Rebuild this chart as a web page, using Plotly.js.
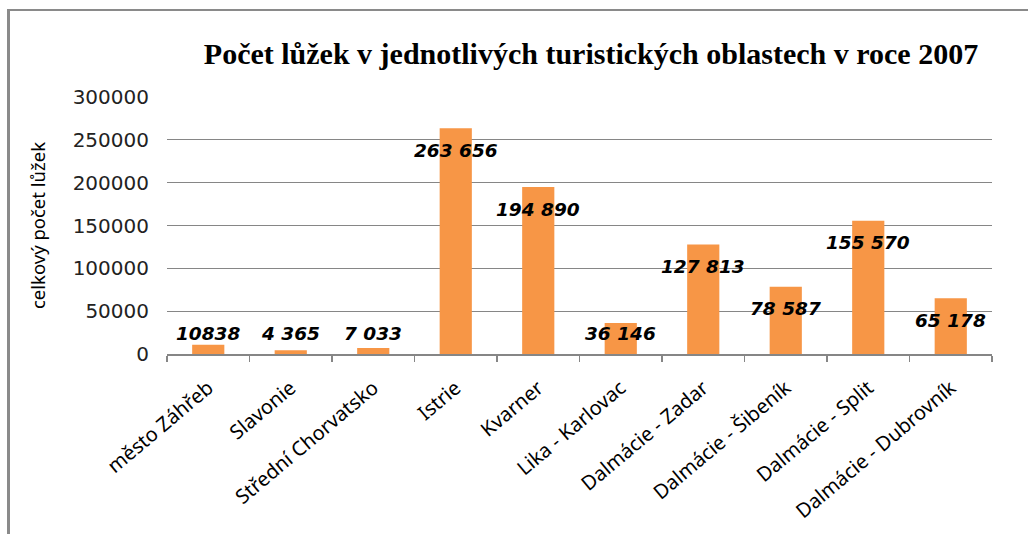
<!DOCTYPE html>
<html>
<head>
<meta charset="utf-8">
<script src="https://cdn.plot.ly/plotly-3.0.1.min.js"></script>
<style>
  html, body { margin: 0; padding: 0; background: #fff; }
  #wrap { position: relative; width: 1028px; height: 534px; }
  #chart { position: absolute; left: 0; top: 0; width: 1028px; height: 534px; }
  #frame { position: absolute; left: 7px; top: 9px; width: 1030px; height: 530px;
           border-left: 3px solid #8a8a8a; border-top: 2px solid #8a8a8a;
           pointer-events: none; z-index: 5; box-sizing: border-box; }
</style>
</head>
<body>
<div id="wrap">
  <div id="chart"></div>
  <div id="frame"></div>
</div>
<script>
const categories = ["město Záhřeb", "Slavonie", "Střední Chorvatsko", "Istrie", "Kvarner",
  "Lika - Karlovac", "Dalmácie - Zadar", "Dalmácie - Šibeník", "Dalmácie - Split", "Dalmácie - Dubrovník"];
const beds = [10838, 4365, 7033, 263656, 194890, 36146, 127813, 78587, 155570, 65178];
const valueLabels = ["10838", "4 365", "7 033", "263 656", "194 890", "36 146", "127 813", "78 587", "155 570", "65 178"];
const titleText = "Počet lůžek v jednotlivých turistických oblastech v roce 2007";
const yTitle = "celkový počet lůžek";
const yMax = 300000;

const W = 1028, H = 534;
const margin = {l: 167, r: 36, t: 97, b: 180};
const plotH = H - margin.t - margin.b;
const unitsPerPx = yMax / plotH;

const annotations = categories.map((c, i) => ({
  x: c, xref: 'x', yref: 'y',
  y: Math.max(beds[i] - 22 * unitsPerPx, 21 * unitsPerPx),
  text: valueLabels[i], showarrow: false,
  xanchor: 'center', yanchor: 'middle',
  font: {family: 'DejaVu Sans', size: 18.5, color: '#000', weight: 'bold', style: 'italic'}
}));

const trace = {
  type: 'bar', x: categories, y: beds,
  marker: {color: '#F79646', line: {width: 0}},
  hoverinfo: 'x+y'
};

const layout = {
  width: W, height: H, margin: margin,
  paper_bgcolor: '#fff', plot_bgcolor: '#fff',
  bargap: 0.61, showlegend: false,
  title: {
    text: titleText, xref: 'container', yref: 'container',
    x: 591 / W, y: 1 - 53 / H, xanchor: 'center', yanchor: 'middle',
    font: {family: 'Liberation Serif', size: 30, color: '#000', weight: 'bold'}
  },
  xaxis: {
    type: 'category', tickangle: -40,
    tickfont: {family: 'Noto Sans', size: 20, color: '#000'},
    ticklabelstandoff: 13,
    ticks: 'outside', tickson: 'boundaries', ticklen: 6, tickcolor: '#868686', tickwidth: 1.5,
    showline: true, linecolor: '#868686', linewidth: 1.5,
    showgrid: false, fixedrange: true
  },
  yaxis: {
    range: [0, yMax], dtick: 50000, tickformat: 'd',
    tickfont: {family: 'DejaVu Sans', size: 20, color: '#222'},
    ticklabelstandoff: 17,
    showgrid: true, gridcolor: '#868686', gridwidth: 1,
    zeroline: false, showline: false, ticks: '',
    title: {text: yTitle, standoff: 22, font: {family: 'Noto Sans', size: 18.5, color: '#000'}},
    fixedrange: true
  },
  annotations: annotations
};

Plotly.newPlot('chart', [trace], layout, {displayModeBar: false, staticPlot: true});
</script>
</body>
</html>
